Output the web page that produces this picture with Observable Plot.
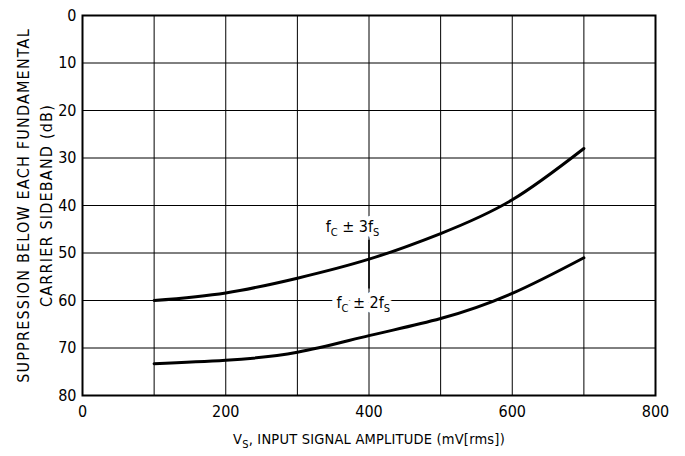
<!DOCTYPE html>
<html>
<head>
<meta charset="utf-8">
<script src="https://cdn.jsdelivr.net/npm/d3@7"></script>
<script src="https://cdn.jsdelivr.net/npm/@observablehq/plot@0.6"></script>
<style>
  html, body { margin: 0; padding: 0; background: #fff; }
</style>
</head>
<body>
<div id="chart"></div>
<script>
// Data
const vs = [100, 200, 300, 400, 500, 600, 700];
const supp3 = [60, 58.4, 55.3, 51.3, 45.9, 38.8, 28];
const supp2 = [73.3, 72.6, 70.9, 67.4, 63.8, 58.5, 51];
const xTicks = [0, 200, 400, 600, 800];
const xGrid = [100, 200, 300, 400, 500, 600, 700];
const yTicks = [0, 10, 20, 30, 40, 50, 60, 70, 80];
const yGrid = [10, 20, 30, 40, 50, 60, 70];
const seriesLabels = [
  {name: "fC ± 3fS", x: 377, y: 44.6},
  {name: "fC ± 2fS", x: 392, y: 60.4}
];
const pointer = [{x: 400, y1: 47.3, y2: 57.6}];
const yLabel = "SUPPRESSION BELOW EACH FUNDAMENTAL\nCARRIER SIDEBAND (dB)";
const xLabel = "VS, INPUT SIGNAL AMPLITUDE (mV[rms])";

const s3 = vs.map((v, i) => ({x: v, y: supp3[i]}));
const s2 = vs.map((v, i) => ({x: v, y: supp2[i]}));

const FONT = "'Liberation Sans Narrow', 'DejaVu Sans Condensed', 'Arial Narrow', sans-serif";

const chart = Plot.plot({
  width: 685,
  height: 456,
  marginLeft: 82,
  marginRight: 30,
  marginTop: 15,
  marginBottom: 61,
  style: {fontSize: "16px", fontFamily: FONT, color: "#000", background: "#fff"},
  x: {domain: [0, 800]},
  y: {domain: [0, 80], reverse: true},
  marks: [
    Plot.gridX(xGrid, {stroke: "#000", strokeOpacity: 1, strokeWidth: 1}),
    Plot.gridY(yGrid, {stroke: "#000", strokeOpacity: 1, strokeWidth: 1}),
    Plot.frame({stroke: "#000", strokeWidth: 2}),
    Plot.axisX(xTicks, {tickSize: 0, tickPadding: 10, fontSize: 16, label: null}),
    Plot.axisY(yTicks, {tickSize: 0, tickPadding: 6, fontSize: 16, label: null}),
    Plot.line(s3, {x: "x", y: "y", curve: "natural", stroke: "#000", strokeWidth: 3}),
    Plot.line(s2, {x: "x", y: "y", curve: "natural", stroke: "#000", strokeWidth: 3}),
    Plot.ruleX(pointer, {x: "x", y1: "y1", y2: "y2", stroke: "#000", strokeWidth: 1.5}),
    // white halo layer, then the label text on top
    Plot.text(seriesLabels, {x: "x", y: "y", text: "name", fontSize: 16, fill: "#fff", stroke: "#fff", strokeWidth: 9, strokeLinejoin: "round", className: "slabel"}),
    Plot.text(seriesLabels, {x: "x", y: "y", text: "name", fontSize: 16, fill: "#000", className: "slabel"}),
    Plot.text([yLabel], {frameAnchor: "left", dx: -49, rotate: -90, textAnchor: "middle", lineAnchor: "middle", fontSize: 16, fill: "#000", lineHeight: 1.4, className: "ylabel"}),
    Plot.text([xLabel], {frameAnchor: "bottom", dy: 48, fontSize: 14.5, fill: "#000", className: "xlabel"})
  ]
});
document.getElementById("chart").appendChild(chart);

d3.select(chart).selectAll("g.ylabel text").style("letter-spacing", "1.2px");
d3.select(chart).selectAll("g.xlabel text").style("letter-spacing", "0.2px");

// Render subscripts (C and S) as real sub-positioned text
const NS = "http://www.w3.org/2000/svg";
function rebuild(textEl, parts) {
  while (textEl.firstChild) textEl.removeChild(textEl.firstChild);
  for (const [str, isSub] of parts) {
    const ts = document.createElementNS(NS, "tspan");
    ts.textContent = str;
    if (isSub) { ts.setAttribute("font-size", "11"); ts.setAttribute("dy", "4"); }
    else { ts.setAttribute("dy", "0"); }
    textEl.appendChild(ts);
  }
  const kids = [...textEl.childNodes];
  for (let i = 1; i < kids.length; i++) {
    if (!parts[i][1] && parts[i - 1][1]) kids[i].setAttribute("dy", "-4");
  }
}
d3.select(chart).selectAll("g.slabel text").each(function() {
  const t = this.textContent;
  const n = t.charAt(5);
  rebuild(this, [["f", false], ["C", true], [" ± " + n + "f", false], ["S", true]]);
});
d3.select(chart).selectAll("g.xlabel text").each(function() {
  const t = this.textContent;
  rebuild(this, [["V", false], ["S", true], [t.slice(2), false]]);
});
</script>
</body>
</html>
